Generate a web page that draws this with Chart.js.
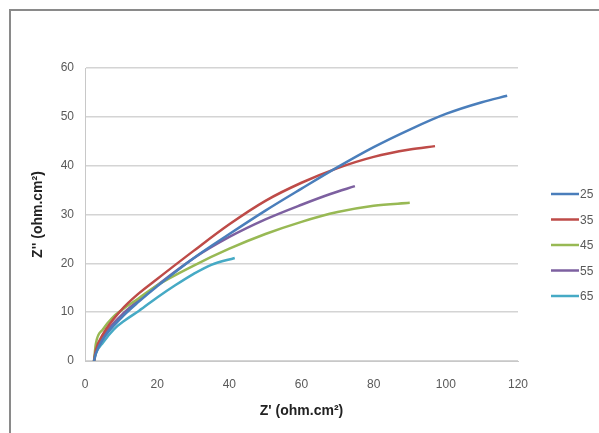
<!DOCTYPE html>
<html>
<head>
<meta charset="utf-8">
<script src="https://cdn.jsdelivr.net/npm/chart.js@4"></script>
<style>
  body { margin: 0; background: #fff; overflow: hidden; }
  #frame { position: absolute; left: 9px; top: 9px; width: 640px; height: 480px; border: 2px solid #8a8a8a; }
  #wrap { position: absolute; left: 0; top: 0; width: 599px; height: 433px; }
</style>
</head>
<body>
<div id="frame"></div>
<div id="wrap"><canvas id="chart" width="599" height="433"></canvas></div>
<script>
// Nyquist curves, Z' vs Z''
var labels = ['25', '35', '45', '55', '65'];
var colors = ['#4a7ebb', '#be4b48', '#98b954', '#7d60a0', '#46aac5'];

var s25 = [[2.5,0],[3,1.5],[5,4.5],[10,8.8],[15,12.2],[20,15.3],[30,21],[40,26],[50,30.8],[60,35.3],[70,39.7],[80,43.8],[90,47.4],[100,50.6],[110,53],[117,54.3]];
var s35 = [[2.5,0],[3,2.2],[5,5.5],[10,10.4],[15,13.9],[20,16.8],[30,22.5],[40,28],[50,32.8],[60,36.5],[70,39.5],[80,41.8],[90,43.3],[97,44]];
var s45 = [[2.5,0],[3,3.5],[5,6.5],[7.5,8.8],[10.5,10.6],[15,12.9],[20,15.5],[30,19.5],[40,23],[50,26],[60,28.5],[70,30.5],[80,31.8],[90,32.4]];
var s55 = [[2.5,0],[3,2],[5,5],[10,9.3],[15,12.5],[20,15.5],[30,21],[40,25.4],[50,29],[60,32],[68,34.2],[74.8,35.8]];
var s65 = [[2.5,0],[3,1.5],[5,3.8],[8,6.5],[11,8.3],[15,10.3],[20,13],[25,15.5],[30,17.8],[35,19.7],[41.5,21.1]];
var series = [s25, s35, s45, s55, s65];

var xTicks = [0, 20, 40, 60, 80, 100, 120];
var yTicks = [0, 10, 20, 30, 40, 50, 60];

var textCol = '#595959';
var fontName = '"Liberation Sans", Arial, sans-serif';

// legend drawn by hand so it sits where the original one is
var sideLegend = {
    id: 'sideLegend',
    afterDraw: function(chart) {
        var ctx = chart.ctx;
        ctx.save();
        ctx.font = '12px ' + fontName;
        ctx.textBaseline = 'middle';
        chart.data.datasets.forEach(function(ds, i) {
            var y = 194 + i * 25.5;
            ctx.strokeStyle = ds.borderColor;
            ctx.lineWidth = 2.5;
            ctx.beginPath();
            ctx.moveTo(551, y);
            ctx.lineTo(579, y);
            ctx.stroke();
            ctx.fillStyle = textCol;
            ctx.fillText(ds.label, 580, y + 1);
        });
        ctx.restore();
    }
};

var datasets = [];
for (let i = 0; i < series.length; i++) {
    datasets.push({
        label: labels[i],
        data: series[i].map(function(p) { return {x: p[0], y: p[1]}; }),
        borderColor: colors[i],
        backgroundColor: colors[i],
        borderWidth: 2.5,
        pointRadius: 0,
        showLine: true,
        cubicInterpolationMode: 'monotone'
    });
}

new Chart(document.getElementById('chart'), {
    type: 'scatter',
    data: { datasets: datasets },
    options: {
        responsive: false,
        animation: false,
        layout: { padding: { top: 68, right: 81, bottom: 0, left: 0 } },
        plugins: { legend: { display: false }, tooltip: { enabled: false } },
        scales: {
            x: {
                type: 'linear', min: 0, max: 120,
                afterBuildTicks: function(s) { s.ticks = xTicks.map(function(v) { return {value: v}; }); },
                afterFit: function(s) { s.height = 72; },
                grid: { display: false, drawTicks: false },
                border: { display: true, color: '#c8c8c8', width: 1 },
                ticks: { color: textCol, font: { size: 12, family: fontName }, padding: 16, maxRotation: 0 },
                title: { display: true, text: "Z' (ohm.cm²)", color: '#222', font: { size: 14, weight: 'bold', family: fontName }, padding: { top: 0, bottom: 13 } }
            },
            y: {
                type: 'linear', min: 0, max: 60,
                afterBuildTicks: function(s) { s.ticks = yTicks.map(function(v) { return {value: v}; }); },
                afterFit: function(s) { s.width = 85; },
                grid: { color: '#d4d4d4', lineWidth: 1.5, drawTicks: false },
                border: { display: true, color: '#c8c8c8', width: 1 },
                ticks: { color: textCol, font: { size: 12, family: fontName }, padding: 11 },
                title: { display: true, text: "Z'' (ohm.cm²)", color: '#222', font: { size: 14, weight: 'bold', family: fontName }, padding: { top: 30, bottom: 0 } }
            }
        }
    },
    plugins: [sideLegend]
});
</script>
</body>
</html>
